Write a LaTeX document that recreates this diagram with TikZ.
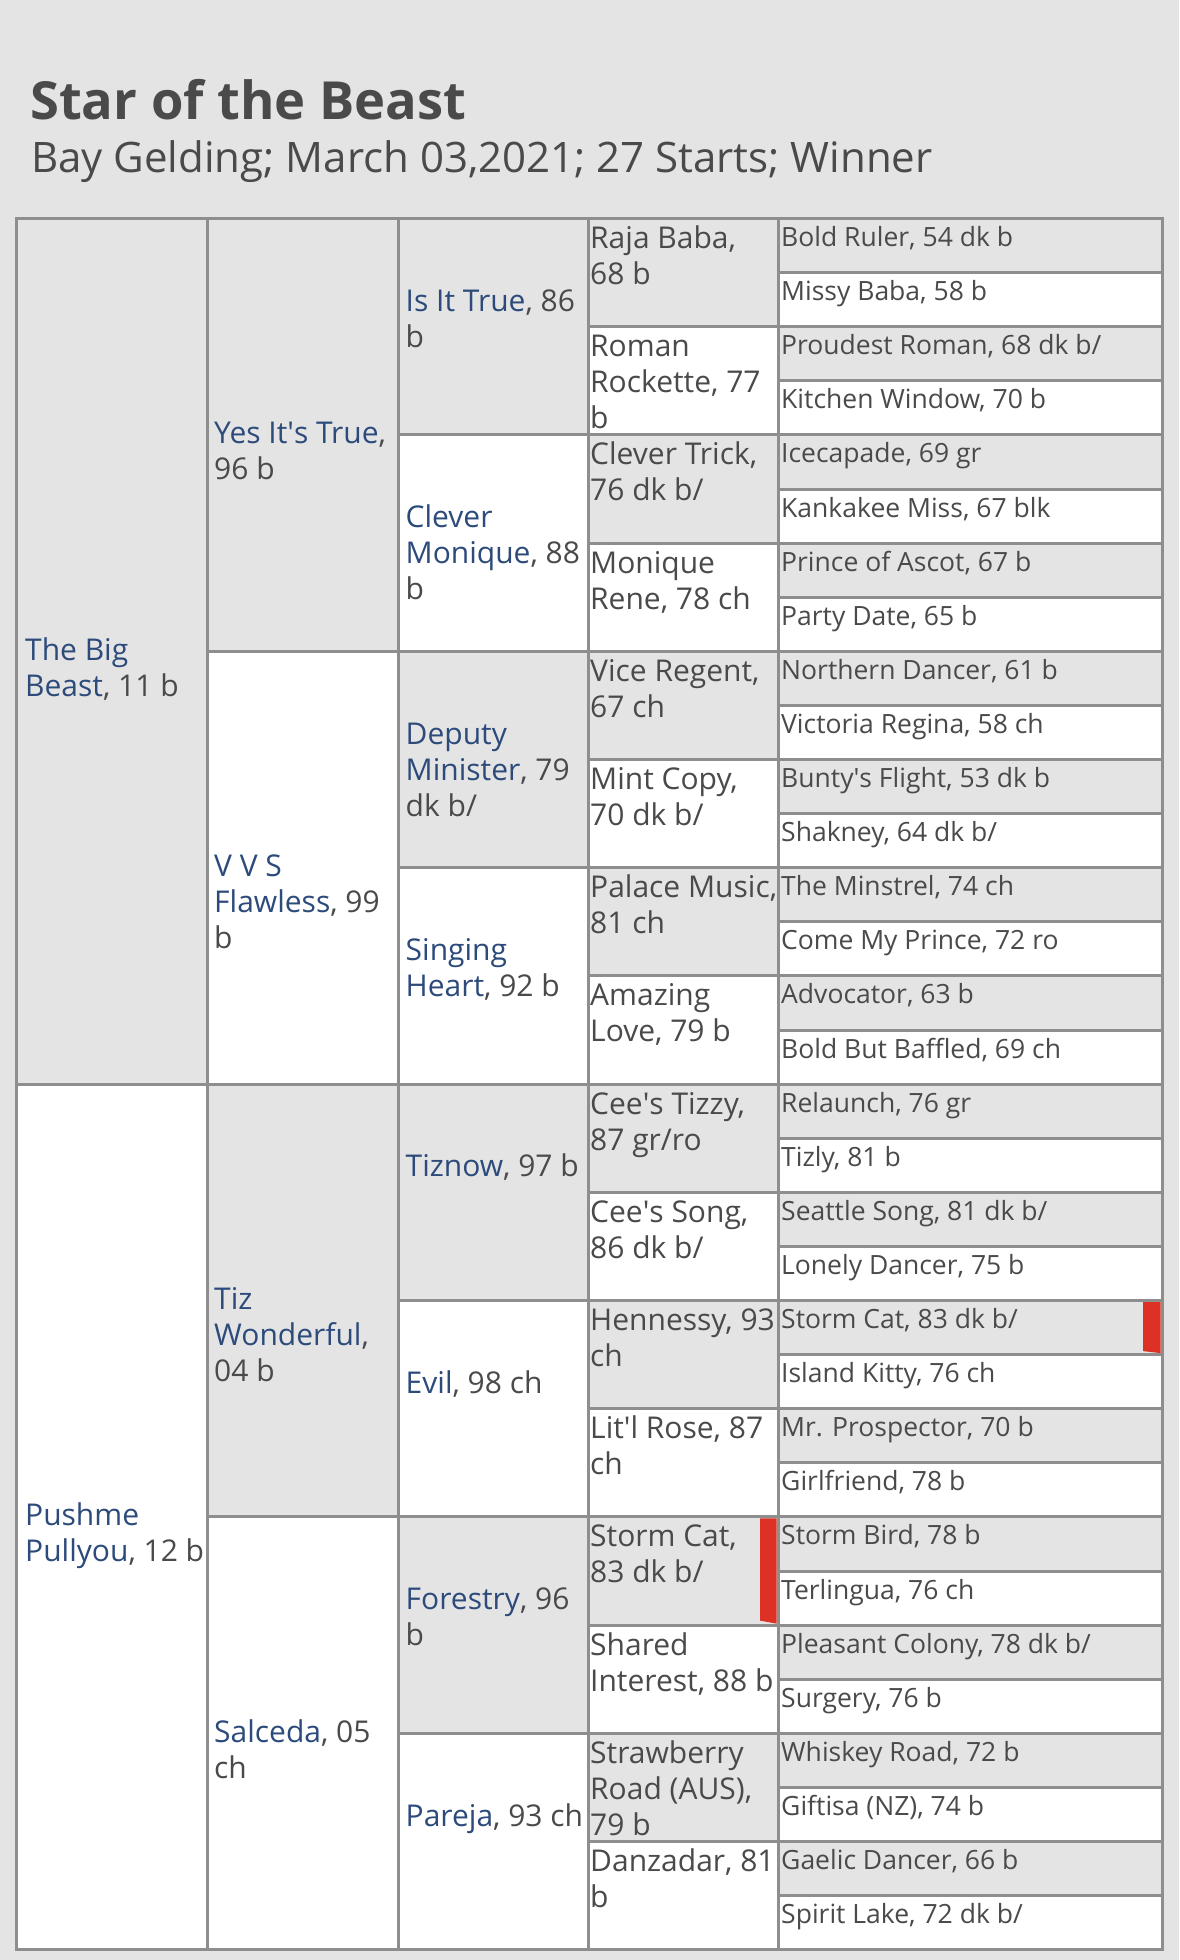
\documentclass[tikz,border=0pt]{standalone}
\usepackage{fontspec}
\setmainfont{Open Sans}
\definecolor{bg}{HTML}{E4E4E4}
\definecolor{cellgray}{HTML}{E4E4E4}
\definecolor{gridc}{HTML}{8E8E8E}
\definecolor{txt}{HTML}{4A4A4A}
\definecolor{linkb}{HTML}{2C4B7B}
\definecolor{flag}{HTML}{DC3124}
\newcommand{\pedlines}[1]{\begin{tabular}[t]{@{}l@{}}#1\end{tabular}}
\newcommand{\nm}[1]{\textcolor{linkb}{#1}}
\newcommand{\ap}{\textquotesingle}
\tikzset{
  big/.style={font=\fontsize{30}{36}\selectfont, text=txt, anchor=base west, inner sep=0pt},
  small/.style={font=\fontsize{26.5}{32}\selectfont, text=txt, anchor=base west, inner sep=0pt},
  sire/.style={fill=cellgray, draw=gridc, line width=3pt},
  dam/.style={fill=white, draw=gridc, line width=3pt},
  flagbar/.style={fill=flag},
}
\begin{document}
\begin{tikzpicture}[x=1pt,y=-1pt]
\fill[bg] (0,0) rectangle (1179,1960);
\useasboundingbox (0,0) rectangle (1179,1960);
\node[anchor=base west, inner sep=0pt, text=txt, font=\bfseries\fontsize{52.5}{62}\selectfont] (title) at (30,119) {Star of the Beast};
\node[anchor=base west, inner sep=0pt, text=txt, font=\fontsize{42}{50}\selectfont] (subtitle) at (31,172) {Bay Gelding; March 03,2021; 27 Starts; Winner};
\def\T{218.5}\def\H{54.1}
% generation 5
\foreach \t [count=\i from 0] in {{Bold Ruler, 54 dk b},{Missy Baba, 58 b},{Proudest Roman, 68 dk b/},{Kitchen Window, 70 b},{Icecapade, 69 gr},{Kankakee Miss, 67 blk},{Prince of Ascot, 67 b},{Party Date, 65 b},{Northern Dancer, 61 b},{Victoria Regina, 58 ch},{Bunty\ap s Flight, 53 dk b},{Shakney, 64 dk b/},{The Minstrel, 74 ch},{Come My Prince, 72 ro},{Advocator, 63 b},{Bold But Baffled, 69 ch},{Relaunch, 76 gr},{Tizly, 81 b},{Seattle Song, 81 dk b/},{Lonely Dancer, 75 b},{Storm Cat, 83 dk b/},{Island Kitty, 76 ch},{Mr. Prospector, 70 b},{Girlfriend, 78 b},{Storm Bird, 78 b},{Terlingua, 76 ch},{Pleasant Colony, 78 dk b/},{Surgery, 76 b},{Whiskey Road, 72 b},{Giftisa (NZ), 74 b},{Gaelic Dancer, 66 b},{Spirit Lake, 72 dk b/}}{
  \pgfmathsetmacro\ya{\T+\i*\H}
  \pgfmathsetmacro\yb{\T+(\i+1)*\H}
  \ifodd\i\relax\def\st{dam}\else\def\st{sire}\fi
  \path[\st] (778,\ya) rectangle (1162,\yb);
  \node[small] (g5-\i) at (781,\ya+28) {\t};
}
% generation 4
\foreach \t [count=\i from 0] in {{Raja Baba,\\68 b},{Roman\\Rockette, 77\\b},{Clever Trick,\\76 dk b/},{Monique\\Rene, 78 ch},{Vice Regent,\\67 ch},{Mint Copy,\\70 dk b/},{Palace Music,\\81 ch},{Amazing\\Love, 79 b},{Cee\ap s Tizzy,\\87 gr/ro},{Cee\ap s Song,\\86 dk b/},{Hennessy, 93\\ch},{Lit\ap l Rose, 87\\ch},{Storm Cat,\\83 dk b/},{Shared\\Interest, 88 b},{Strawberry\\Road (AUS),\\79 b},{Danzadar, 81\\b}}{
  \pgfmathsetmacro\ya{\T+2*\i*\H}
  \pgfmathsetmacro\yb{\T+2*(\i+1)*\H}
  \ifodd\i\relax\def\st{dam}\else\def\st{sire}\fi
  \path[\st] (588,\ya) rectangle (778,\yb);
  \node[big] (g4-\i) at (590,\ya+30) {\pedlines{\t}};
}
% generation 3
\foreach \t [count=\i from 0] in {{\nm{Is It True}, 86\\b},{\nm{Clever}\\\nm{Monique}, 88\\b},{\nm{Deputy}\\\nm{Minister}, 79\\dk b/},{\nm{Singing}\\\nm{Heart}, 92 b},{\nm{Tiznow}, 97 b},{\nm{Evil}, 98 ch},{\nm{Forestry}, 96\\b},{\nm{Pareja}, 93 ch}}{
  \pgfmathsetmacro\ya{\T+4*\i*\H}
  \pgfmathsetmacro\yb{\T+4*(\i+1)*\H}
  \ifodd\i\relax\def\st{dam}\else\def\st{sire}\fi
  \path[\st] (398,\ya) rectangle (588,\yb);
  \node[big] (g3-\i) at (405.5,\ya+2*\H-15.5) {\pedlines{\t}};
}
% generation 2
\foreach \t [count=\i from 0] in {{\nm{Yes It\ap s True},\\96 b},{\nm{V V S}\\\nm{Flawless}, 99\\b},{\nm{Tiz}\\\nm{Wonderful},\\04 b},{\nm{Salceda}, 05\\ch}}{
  \pgfmathsetmacro\ya{\T+8*\i*\H}
  \pgfmathsetmacro\yb{\T+8*(\i+1)*\H}
  \ifodd\i\relax\def\st{dam}\else\def\st{sire}\fi
  \path[\st] (207,\ya) rectangle (398,\yb);
  \node[big] (g2-\i) at (214,\ya+4*\H+9) {\pedlines{\t}};
}
% generation 1
\foreach \t [count=\i from 0] in {{\nm{The Big}\\\nm{Beast}, 11 b},{\nm{Pushme}\\\nm{Pullyou}, 12 b}}{
  \pgfmathsetmacro\ya{\T+16*\i*\H}
  \pgfmathsetmacro\yb{\T+16*(\i+1)*\H}
  \ifodd\i\relax\def\st{dam}\else\def\st{sire}\fi
  \path[\st] (16,\ya) rectangle (207,\yb);
  \node[big] (g1-\i) at (25,\ya+8*\H+9) {\pedlines{\t}};
}
% red markers
\fill[flagbar] (1143,\T+20*\H+1.5) -- (1160.5,\T+20*\H+1.5) -- (1160.5,\T+21*\H-1.5) -- (1143,\T+21*\H-3.5) -- cycle;
\fill[flagbar] (760,\T+24*\H+1.5) -- (776.5,\T+24*\H+1.5) -- (776.5,\T+26*\H-1.5) -- (760,\T+26*\H-4.5) -- cycle;
\end{tikzpicture}
\end{document}
